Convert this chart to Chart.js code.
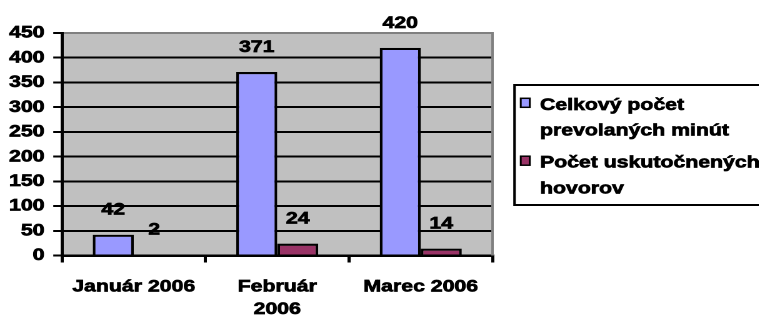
<!DOCTYPE html>
<html>
<head>
<meta charset="utf-8">
<script src="https://cdn.jsdelivr.net/npm/chart.js@4/dist/chart.umd.min.js"></script>
<style>
  html, body { margin: 0; padding: 0; background: #fff; overflow: hidden; }
  #wrap { width: 607px; height: 323px; transform: scaleX(1.25); transform-origin: 0 0; }
</style>
</head>
<body>
<div id="wrap"><canvas id="c" width="607" height="323"></canvas></div>
<script>
// Categories (months) and the two series
const categories = ["Január 2006", ["Február", "2006"], "Marec 2006"];
const totalMinutes = [42, 371, 420];
const callCount = [2, 24, 14];
const seriesNames = [["Celkový počet", "prevolaných minút"], ["Počet uskutočnených", "hovorov"]];
const seriesColors = ["#9999FF", "#993366"];
const yTicks = [0, 50, 100, 150, 200, 250, 300, 350, 400, 450];

const FONT = '"Liberation Sans", Arial, sans-serif';
const TEXT_STROKE = 0.7;

// grey plot background
const plotBackground = {
  id: 'plotBackground',
  beforeDraw(chart) {
    const { ctx, chartArea: a } = chart;
    ctx.save();
    ctx.fillStyle = '#fff';
    ctx.fillRect(0, 0, chart.width, chart.height);
    ctx.fillStyle = '#C0C0C0';
    ctx.fillRect(a.left, a.top, a.right - a.left, a.bottom - a.top);
    ctx.restore();
  },
  afterDraw(chart) {
    // grey frame on the right side
    const { ctx, chartArea: a } = chart;
    ctx.save();
    ctx.strokeStyle = '#808080';
    ctx.lineWidth = 2;
    ctx.beginPath();
    ctx.moveTo(a.right, a.top - 1);
    ctx.lineTo(a.right, a.bottom);
    ctx.stroke();
    ctx.restore();
  }
};

function boldText(ctx, t, x, y) {
  ctx.fillText(t, x, y);
  ctx.strokeText(t, x, y);
}

// value labels above each bar
const valueLabels = {
  id: 'valueLabels',
  afterDatasetsDraw(chart) {
    const { ctx } = chart;
    ctx.save();
    ctx.font = 'bold 17px ' + FONT;
    ctx.fillStyle = '#000';
    ctx.strokeStyle = '#000';
    ctx.lineWidth = TEXT_STROKE;
    ctx.textAlign = 'center';
    ctx.textBaseline = 'middle';
    chart.data.datasets.forEach((ds, di) => {
      chart.getDatasetMeta(di).data.forEach((bar, i) => {
        boldText(ctx, String(ds.data[i]), bar.x, bar.y - 24.7);
      });
    });
    ctx.restore();
  }
};

// boxed legend on the right
const boxLegend = {
  id: 'boxLegend',
  afterDraw(chart) {
    const { ctx } = chart;
    ctx.save();
    ctx.strokeStyle = '#000';
    ctx.lineWidth = 2;
    ctx.strokeRect(411.6, 85, 220, 120);
    const markerY = [102.8, 160.7];
    const baselines = [[110, 135.5], [167.7, 193.3]];
    ctx.font = 'bold 17px ' + FONT;
    ctx.textBaseline = 'alphabetic';
    ctx.textAlign = 'left';
    seriesNames.forEach((lines, i) => {
      ctx.fillStyle = seriesColors[i];
      ctx.fillRect(416.6, markerY[i] - 4.5, 7.2, 9);
      ctx.lineWidth = 1.5;
      ctx.strokeRect(416.6, markerY[i] - 4.5, 7.2, 9);
      ctx.fillStyle = '#000';
      ctx.lineWidth = TEXT_STROKE;
      lines.forEach((t, j) => boldText(ctx, t, 432, baselines[i][j]));
    });
    ctx.restore();
  }
};

new Chart(document.getElementById('c'), {
  type: 'bar',
  data: {
    labels: categories,
    datasets: [
      { label: seriesNames[0].join(' '), data: totalMinutes, backgroundColor: seriesColors[0] },
      { label: seriesNames[1].join(' '), data: callCount, backgroundColor: seriesColors[1] }
    ]
  },
  options: {
    responsive: false,
    animation: false,
    devicePixelRatio: 2,
    layout: { padding: { left: 0, top: 33, right: 213, bottom: 0 } },
    datasets: {
      bar: {
        borderColor: '#000',
        borderWidth: 2.2,
        borderSkipped: 'bottom',
        categoryPercentage: 2 / 3.5,
        barPercentage: 1
      }
    },
    plugins: {
      legend: { display: false },
      tooltip: { enabled: false }
    },
    scales: {
      x: {
        offset: true,
        grid: {
          offset: true,
          drawOnChartArea: false,
          drawTicks: true,
          tickLength: 7,
          color: '#000',
          lineWidth: 2.5
        },
        border: { display: true, color: '#000', width: 2.5 },
        ticks: {
          color: '#000',
          padding: 13.5,
          maxRotation: 0,
          autoSkip: false,
          textStrokeColor: '#000',
          textStrokeWidth: TEXT_STROKE,
          font: { family: FONT, size: 17, weight: 'bold', lineHeight: 1.3 }
        },
        afterFit(scale) { scale.height = 67.5; }
      },
      y: {
        min: 0,
        max: 450,
        afterBuildTicks(scale) { scale.ticks = yTicks.map(v => ({ value: v })); },
        grid: {
          color: ctx => (ctx.tick && ctx.tick.value === 450 ? '#808080' : '#000'),
          tickColor: '#000',
          lineWidth: 2,
          tickLength: 7,
          drawTicks: true
        },
        border: { display: true, color: '#000', width: 2.5 },
        ticks: {
          color: '#000',
          padding: 7,
          textStrokeColor: '#000',
          textStrokeWidth: TEXT_STROKE,
          font: { family: FONT, size: 17, weight: 'bold' }
        },
        afterFit(scale) { scale.width = 49.6; }
      }
    }
  },
  plugins: [plotBackground, valueLabels, boxLegend]
});
</script>
</body>
</html>
